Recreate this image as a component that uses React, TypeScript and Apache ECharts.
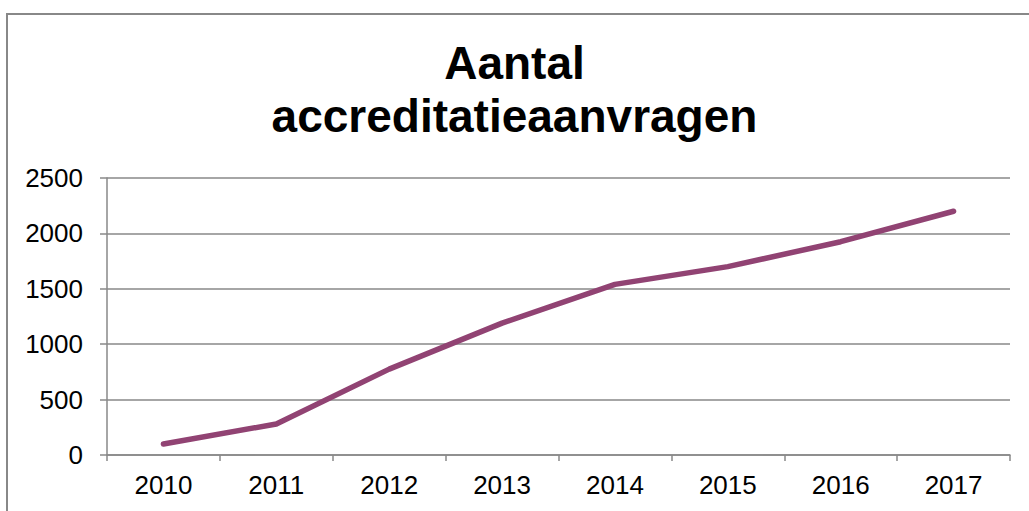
import React, { useEffect, useRef } from "react";
import * as echarts from "echarts";

const categories = ["2010", "2011", "2012", "2013", "2014", "2015", "2016", "2017"];
const values = [100, 280, 775, 1190, 1540, 1700, 1925, 2200];
const titleText = "Aantal\naccreditatieaanvragen";

export default function App() {
  const ref = useRef<HTMLDivElement>(null);
  useEffect(() => {
    if (!ref.current) return;
    const chart = echarts.init(ref.current, null, { renderer: "svg" });
    chart.setOption({
      animation: false,
      backgroundColor: "#ffffff",
      title: {
        text: titleText,
        left: "center",
        top: 31,
        textStyle: {
          fontFamily: "Liberation Sans, Arial, sans-serif",
          fontSize: 46,
          fontWeight: "bold",
          color: "#000",
          lineHeight: 53,
        },
      },
      graphic: [
        {
          type: "rect",
          shape: { x: 7, y: 14, width: 1040, height: 520 },
          style: { fill: "none", stroke: "#888888", lineWidth: 2 },
          silent: true,
        },
      ],
      grid: { left: 107, right: 19, top: 178, bottom: 56, containLabel: false },
      xAxis: {
        type: "category",
        data: categories,
        boundaryGap: true,
        axisLine: { lineStyle: { color: "#888888", width: 1.5 } },
        axisTick: { show: true, length: 6, alignWithLabel: false, lineStyle: { color: "#888888", width: 1.5 } },
        axisLabel: {
          margin: 17,
          fontFamily: "Liberation Sans, Arial, sans-serif",
          fontSize: 26,
          color: "#000",
        },
        splitLine: { show: false },
      },
      yAxis: {
        type: "value",
        min: 0,
        max: 2500,
        interval: 500,
        axisLine: { show: true, lineStyle: { color: "#888888", width: 1.5 } },
        axisTick: { show: true, length: 7, lineStyle: { color: "#888888", width: 1.5 } },
        axisLabel: {
          margin: 24,
          fontFamily: "Liberation Sans, Arial, sans-serif",
          fontSize: 26,
          color: "#000",
          formatter: (v: number) => String(v),
        },
        splitLine: { show: true, lineStyle: { color: "#888888", width: 1.5 } },
      },
      series: [
        {
          type: "line",
          data: values,
          symbol: "none",
          lineStyle: { color: "#914373", width: 5.5, cap: "round", join: "round" },
        },
      ],
    });
    return () => chart.dispose();
  }, []);
  return <div ref={ref} style={{ width: 1029, height: 511, position: "absolute", left: 0, top: 0 }} />;
}
